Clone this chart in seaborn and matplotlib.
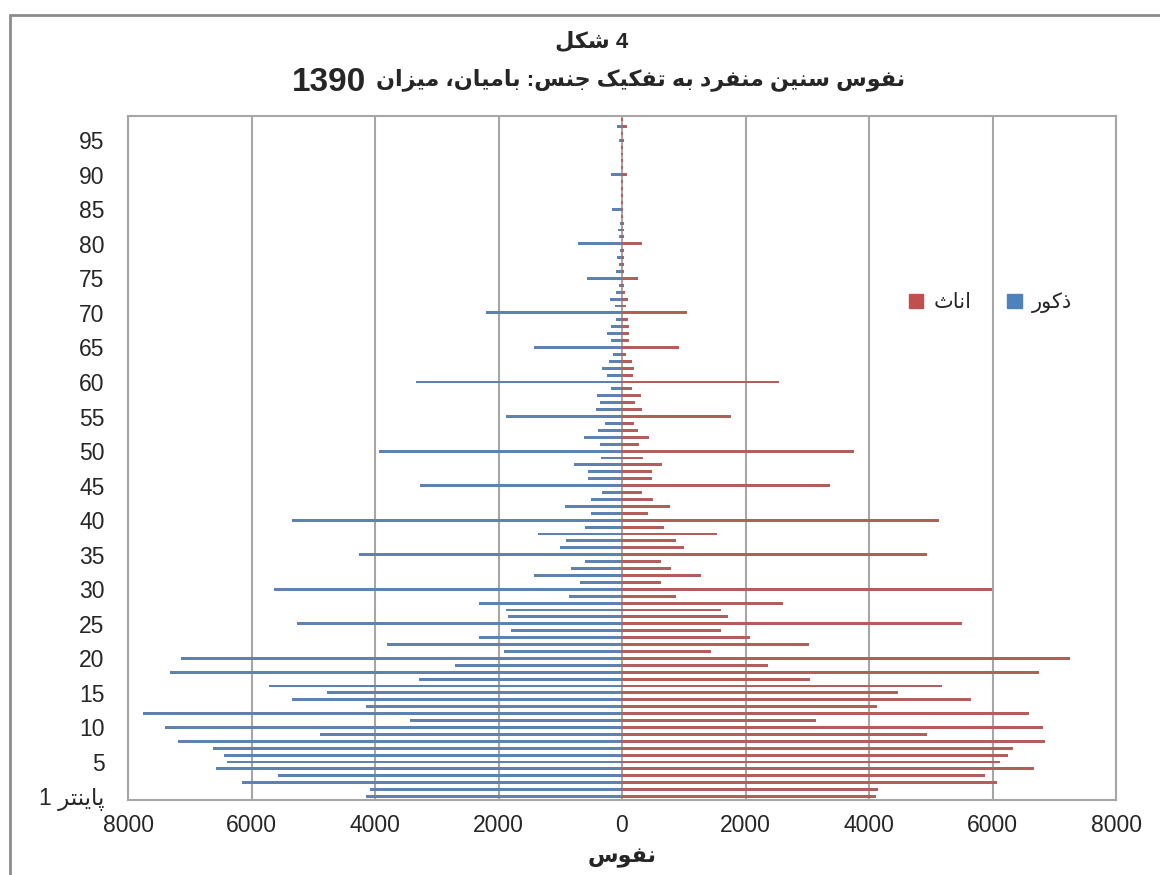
import re
import numpy as np
import pandas as pd
import matplotlib
matplotlib.use("Agg")
import matplotlib.pyplot as plt
from matplotlib.patches import Patch
from matplotlib.lines import Line2D
import seaborn as sns

# -----------------------------
# DATA
# -----------------------------
ages = list(range(0, 99))

males = [4140, 4081, 6156, 5578, 6572, 6389, 6448, 6616, 7194, 4892,
         7405, 3438, 7756, 4140, 5346, 4783, 5718, 3292, 7324, 2708,
         7135, 1919, 3811, 2313, 1794, 5264, 1854, 1876, 2313, 859,
         5637, 676, 1422, 822, 595, 4265, 1005, 903, 1362, 595,
         5346, 508, 924, 508, 319, 3270, 551, 551, 778, 341,
         3935, 362, 611, 384, 281, 1876, 427, 362, 405, 173,
         3335, 238, 319, 216, 151, 1422, 173, 238, 173, 92,
         2205, 114, 200, 92, 54, 573, 92, 54, 81, 32,
         719, 54, 60, 32, 10, 157, 10, 10, 10, 10,
         178, 10, 10, 10, 10, 54, 10, 86, 10]

females = [4119, 4140, 6075, 5886, 6675, 6118, 6259, 6324, 6843, 4935,
           6821, 3146, 6594, 4124, 5659, 4475, 5183, 3043, 6756, 2357,
           7259, 1443, 3021, 2065, 1611, 5513, 1713, 1611, 2600, 881,
           5999, 632, 1276, 800, 632, 4935, 1005, 881, 1546, 676,
           5140, 427, 778, 508, 319, 3373, 486, 486, 654, 341,
           3751, 281, 443, 259, 195, 1773, 319, 216, 303, 157,
           2540, 173, 195, 157, 70, 924, 114, 114, 114, 92,
           1049, 70, 92, 54, 27, 259, 27, 27, 27, 27,
           319, 27, 32, 32, 15, 22, 15, 15, 15, 15,
           76, 15, 15, 15, 15, 27, 15, 76, 15]

x_ticks = [-8000, -6000, -4000, -2000, 0, 2000, 4000, 6000, 8000]
y_ticks = list(range(0, 100, 5))

# -----------------------------
# SIMPLE ARABIC/PERSIAN SHAPING
# (matplotlib does no shaping, so use presentation forms + visual order)
# -----------------------------
FORMS = {
    'ا': (0xFE8D, 0xFE8E, None, None),
    'ب': (0xFE8F, 0xFE90, 0xFE91, 0xFE92),
    'پ': (0xFB56, 0xFB57, 0xFB58, 0xFB59),
    'ت': (0xFE95, 0xFE96, 0xFE97, 0xFE98),
    'ث': (0xFE99, 0xFE9A, 0xFE9B, 0xFE9C),
    'ج': (0xFE9D, 0xFE9E, 0xFE9F, 0xFEA0),
    'د': (0xFEA9, 0xFEAA, None, None),
    'ذ': (0xFEAB, 0xFEAC, None, None),
    'ر': (0xFEAD, 0xFEAE, None, None),
    'ز': (0xFEAF, 0xFEB0, None, None),
    'س': (0xFEB1, 0xFEB2, 0xFEB3, 0xFEB4),
    'ش': (0xFEB5, 0xFEB6, 0xFEB7, 0xFEB8),
    'ف': (0xFED1, 0xFED2, 0xFED3, 0xFED4),
    'ک': (0xFB8E, 0xFB8F, 0xFB90, 0xFB91),
    'ل': (0xFEDD, 0xFEDE, 0xFEDF, 0xFEE0),
    'م': (0xFEE1, 0xFEE2, 0xFEE3, 0xFEE4),
    'ن': (0xFEE5, 0xFEE6, 0xFEE7, 0xFEE8),
    'ه': (0xFEE9, 0xFEEA, 0xFEEB, 0xFEEC),
    'و': (0xFEED, 0xFEEE, None, None),
    'ی': (0xFBFC, 0xFBFD, 0xFBFE, 0xFBFF),
}


def shape(text):
    out = []
    for i, ch in enumerate(text):
        if ch not in FORMS:
            out.append(ch)
            continue
        prev = text[i - 1] if i > 0 else None
        nxt = text[i + 1] if i < len(text) - 1 else None
        iso, fin, ini, med = FORMS[ch]
        join_prev = prev in FORMS and FORMS[prev][2] is not None
        join_next = nxt in FORMS and ini is not None
        if join_prev and join_next:
            code = med
        elif join_prev:
            code = fin
        elif join_next:
            code = ini
        else:
            code = iso
        out.append(chr(code))
    return ''.join(out)


def rtl(text):
    vis = shape(text)[::-1]
    return re.sub(r'\d+', lambda m: m.group(0)[::-1], vis)


male_name = 'ذکور'
female_name = 'اناث'

# -----------------------------
# LONG TABLE FOR SEABORN
# -----------------------------
df = pd.DataFrame({
    'age': ages * 2,
    'value': [-v for v in males] + females,
    'sex': [male_name] * len(ages) + [female_name] * len(ages),
})

# -----------------------------
# PLOT
# -----------------------------
sns.set_style('white')
plt.rcParams['font.family'] = ['Liberation Sans', 'DejaVu Sans']

fig = plt.figure(figsize=(11.6, 8.75), dpi=100)
ax = fig.add_axes([128 / 1160, 1 - 800 / 875, (1116 - 128) / 1160, (800 - 116) / 875])

colors = {male_name: '#4F81BD', female_name: '#C0504D'}

sns.barplot(
    data=df, x='value', y='age', hue='sex',
    orient='h', native_scale=True, dodge=False,
    palette=colors, width=0.42, linewidth=0,
    legend=False, ax=ax
)

ax.set_xlim(-8000, 8000)
ax.set_ylim(-0.5, 98.5)
ax.set_xticks(x_ticks)
ax.set_xticklabels([str(abs(t)) for t in x_ticks], fontsize=16.5)
ax.set_yticks(y_ticks)
ylabels = ['1 ' + rtl('پاینتر')] + [str(t) for t in y_ticks[1:]]
ax.set_yticklabels(ylabels, fontsize=16.5)
ax.tick_params(axis='both', length=0, pad=10)
ax.tick_params(axis='y', pad=17)
ax.set_xlabel('')
ax.set_ylabel('')

ax.xaxis.grid(True, color='#a6a6a6', linewidth=1.5)
ax.yaxis.grid(False)
ax.set_axisbelow(True)
for s in ax.spines.values():
    s.set_color('#a6a6a6')
    s.set_linewidth(1.5)

# legend (red first, RTL order)
handles = [Patch(color=colors[female_name]), Patch(color=colors[male_name])]
ax.legend(handles, [rtl(female_name), rtl(male_name)], ncol=2,
          loc='center', bbox_to_anchor=(0.873, 0.727), frameon=False,
          handlelength=0.7, handleheight=0.7, handletextpad=0.5,
          columnspacing=1.7, fontsize=15)

# -----------------------------
# TITLES / LABELS
# -----------------------------
fig.text(0.51, 0.952, rtl('شکل') + ' 4', ha='center', va='center',
         fontsize=16, fontweight='bold')
fig.text(905 / 1160, 0.909, rtl('نفوس سنین منفرد به تفکیک جنس: بامیان، میزان'),
         ha='right', va='center', fontsize=16, fontweight='bold')
fig.text(366 / 1160, 0.906, '1390', ha='right', va='center',
         fontsize=24, fontweight='bold')
fig.text(622 / 1160, 1 - 857 / 875, rtl('نفوس'), ha='center', va='center',
         fontsize=16, fontweight='bold')

# outer chart border (top and left visible)
fig.add_artist(Line2D([10 / 1160, 1], [1 - 15 / 875, 1 - 15 / 875],
                      transform=fig.transFigure, color='#8c8c8c', lw=2))
fig.add_artist(Line2D([10 / 1160, 10 / 1160], [1 - 15 / 875, 0],
                      transform=fig.transFigure, color='#8c8c8c', lw=2))

fig.savefig('out.png', dpi=100)
